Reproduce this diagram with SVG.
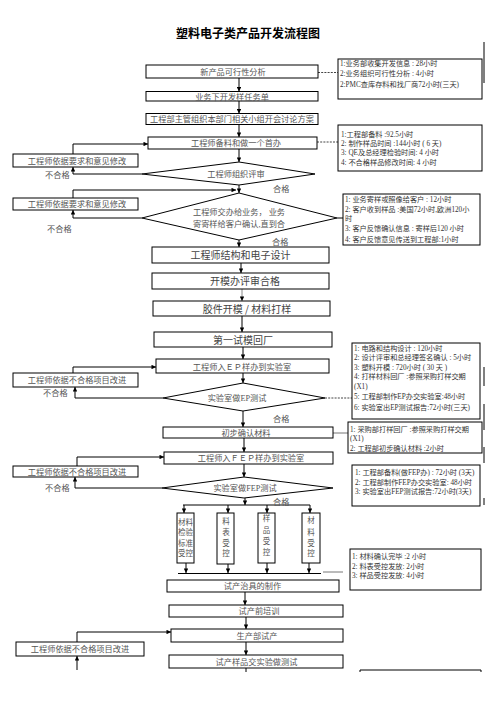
<svg xmlns="http://www.w3.org/2000/svg" width="496" height="702" viewBox="0 0 496 702">
<style>
.b{fill:#fff;stroke:#000;stroke-width:1}
.t{font-family:"Liberation Serif","Noto Sans CJK SC",serif;font-size:8.2px;fill:#555;text-anchor:middle}
.big{font-family:"Noto Sans CJK SC",sans-serif;font-size:10px;fill:#444;text-anchor:middle}
.i{font-family:"Liberation Serif","Noto Sans CJK SC",serif;font-size:7.2px;fill:#333}
.v{font-family:"Liberation Serif","Noto Sans CJK SC",serif;font-size:7.5px;fill:#555;text-anchor:middle}
.c{fill:none;stroke:#000;stroke-width:1}
.a{fill:none;stroke:#000;stroke-width:1;marker-end:url(#ah)}
.d{fill:none;stroke:#444;stroke-width:1;stroke-dasharray:2 1.2}
.g{fill:none;stroke:#777;stroke-width:1}
.l{font-family:"Liberation Serif","Noto Sans CJK SC",serif;font-size:8.2px;fill:#555}
</style>
<defs>
<marker id="ah" viewBox="0 0 10 10" refX="10" refY="5" markerWidth="5" markerHeight="4.5" markerUnits="userSpaceOnUse" orient="auto">
<path d="M0,0 L10,5 L0,10 z" fill="#000"/>
</marker>
</defs>
<rect width="496" height="702" fill="#fff"/>
<text x="248" y="38" font-family="Noto Sans CJK SC, sans-serif" font-size="12" font-weight="bold" text-anchor="middle" fill="#000">塑料电子类产品开发流程图</text>

<g id="edges">
<line x1="484" y1="42" x2="484" y2="83" class="c"/>
<line x1="484" y1="367" x2="484" y2="386" class="c"/>
<line x1="484" y1="404" x2="484" y2="430" class="c"/>
<line x1="484" y1="447" x2="484" y2="463" class="c"/>
<line x1="484" y1="498" x2="484" y2="505" class="c"/>
</g>

<g id="connectors">
<path d="M239,78 V91.5" class="a"/>
<path d="M239,101 V113.5" class="a"/>
<path d="M239,125 V137" class="a"/>
<path d="M239,149 V162" class="a"/>
<path d="M73,154 V144 H148" class="a"/>
<path d="M142,174 H73 V167" class="a"/>
<path d="M239,185 V193" class="a"/>
<path d="M73,198 V190 H236" class="a"/>
<path d="M142,218 H73 V210" class="a"/>
<path d="M239,240 V247" class="a"/>
<path d="M241,263 V273" class="a"/>
<path d="M242,289 V301" class="a" style="stroke:#888"/>
<path d="M242,316 V332" class="a"/>
<path d="M243,347 V359" class="a"/>
<path d="M73,373 V367 H156" class="a"/>
<path d="M243,373 V383" class="a"/>
<path d="M163,398 H75 V387" class="a"/>
<path d="M243,411 V427" class="a"/>
<path d="M244,438 V452" class="a"/>
<path d="M77,466 V457 H164" class="a"/>
<path d="M244,464 V477" class="a"/>
<path d="M162,488 H75 V477" class="a"/>
<path d="M245,498 V505" class="a"/>
<path d="M183,505 H310" class="c"/>
<path d="M184,505 V513" class="a"/>
<path d="M228,505 V513" class="a"/>
<path d="M267,505 V513" class="a"/>
<path d="M310,505 V513" class="a"/>
<path d="M186,563 V573" class="a"/>
<path d="M228,564 V573" class="a"/>
<path d="M267,563 V573" class="a"/>
<path d="M309,563 V573" class="a"/>
<path d="M178,573.5 H321" class="c"/>
<path d="M245,592 V605" class="a"/>
<path d="M246,617 V629" class="a"/>
<path d="M77,642 V632 H171" class="a"/>
<path d="M77,670 V656" class="a"/>
<path d="M246,642 V655" class="a"/>
<path d="M246,668 V672" class="c"/>
<path d="M318,72.5 H338" class="d"/>
<path d="M317,142 H338" class="d"/>
<path d="M337,218 H343" class="c"/>
<path d="M325,398 H352" class="d"/>
<path d="M333,433 H348" class="g"/>
<path d="M323,572 H343" class="g"/>
<path d="M360,672 V670 H481 V672" class="c"/>
</g>

<g id="n1"><rect x="146" y="65" width="172" height="13" class="b"/><text x="233" y="75" class="t">新产品可行性分析</text></g>
<g id="n2"><rect x="146" y="91.5" width="172" height="9.5" class="b"/><text x="232" y="99.5" class="t">业务下开发样任务单</text></g>
<g id="n3"><rect x="146" y="113.5" width="172" height="11" class="b"/><text x="232" y="122" class="t">工程部主管组织本部门相关小组开会讨论方案</text></g>
<g id="n4"><rect x="148" y="137" width="169" height="12" class="b"/><text x="236" y="146" class="t">工程师备料和做一个首办</text></g>
<g id="d1"><path d="M239,162 L315,174 L239,185 L142,174 Z" class="b"/><text x="236" y="177" class="t">工程师组织评审</text></g>
<g id="L1"><rect x="13" y="154" width="125" height="13" class="b"/><text x="77" y="163.5" class="t">工程师依据要求和意见修改</text></g>
<g id="d2"><path d="M239,193 L337,218 L239,240 L142,218 Z" class="b"/><text x="239" y="215" class="t">工程师交办给业务， 业务</text><text x="239" y="227" class="t">寄寄样给客户确认,直到合</text></g>
<g id="L2"><rect x="13" y="198" width="125" height="12" class="b"/><text x="77" y="207" class="t">工程师依据要求和意见修改</text></g>
<g id="n5"><rect x="152" y="247" width="177" height="16" class="b"/><text x="240.5" y="259" class="big">工程师结构和电子设计</text></g>
<g id="n6"><rect x="152" y="273" width="177" height="16" class="b"/><text x="245" y="285" class="big">开模办评审合格</text></g>
<g id="n7"><rect x="153" y="301" width="177" height="15" class="b"/><text x="247" y="312.5" class="big">胶件开模 / 材料打样</text></g>
<g id="n8"><rect x="154" y="332" width="178" height="15" class="b"/><text x="243" y="343.5" class="big">第一试模回厂</text></g>
<g id="n9"><rect x="156" y="359" width="173" height="14" class="b"/><text x="242" y="369.5" class="t">工程师入ＥＰ样办到实验室</text></g>
<g id="L3"><rect x="13" y="373" width="125" height="14" class="b"/><text x="77" y="383" class="t">工程师依据不合格项目改进</text></g>
<g id="d3"><path d="M243,383 L325,398 L243,411 L163,398 Z" class="b"/><text x="237" y="401" class="t">实验室做EP测试</text></g>
<g id="n10"><rect x="163" y="427" width="170" height="11" class="b"/><text x="246" y="436" class="t">初步确认材料</text></g>
<g id="n11"><rect x="164" y="452" width="169" height="12" class="b"/><text x="251" y="461" class="t">工程师入ＦＥＰ样办到实验室</text></g>
<g id="L4"><rect x="13" y="466" width="125" height="11" class="b"/><text x="77" y="475" class="t">工程师依据不合格项目改进</text></g>
<g id="d4"><path d="M244,477 L333,488 L244,498 L162,488 Z" class="b"/><text x="245" y="491" class="t">实验室做FEP测试</text></g>
<g id="v1"><rect x="177" y="513" width="17" height="50" class="b"/><text x="185.5" y="525" class="v">材料</text><text x="185.5" y="535" class="v">检验</text><text x="185.5" y="545.5" class="v">标准</text><text x="185.5" y="556" class="v">受控</text></g>
<g id="v2"><rect x="217" y="513" width="17" height="51" class="b"/><text x="226" y="524" class="v">料</text><text x="226" y="535" class="v">表</text><text x="226" y="545.5" class="v">受</text><text x="226" y="555.5" class="v">控</text></g>
<g id="v3"><rect x="258" y="513" width="17" height="50" class="b"/><text x="266.5" y="520.5" class="v">样</text><text x="266.5" y="533" class="v">品</text><text x="266.5" y="544" class="v">受</text><text x="266.5" y="554.5" class="v">控</text></g>
<g id="v4"><rect x="302" y="513" width="18" height="50" class="b"/><text x="311" y="523" class="v">材</text><text x="311" y="535" class="v">料</text><text x="311" y="545.5" class="v">受</text><text x="311" y="555.5" class="v">控</text></g>
<g id="n12"><rect x="167" y="580" width="172" height="12" class="b"/><text x="252.5" y="589" class="t">试产治具的制作</text></g>
<g id="n13"><rect x="169" y="605" width="174" height="12" class="b"/><text x="259" y="614" class="t">试产前培训</text></g>
<g id="n14"><rect x="171" y="629" width="172" height="13" class="b"/><text x="257" y="638.5" class="t">生产部试产</text></g>
<g id="L5"><rect x="16" y="642" width="128" height="14" class="b"/><text x="80" y="652" class="t">工程师依据不合格项目改进</text></g>
<g id="n15"><rect x="169" y="655" width="174" height="13" class="b"/><text x="256.5" y="665" class="t">试产样品交实验做测试</text></g>

<g id="labels">
<text x="45" y="178" class="l">不合格</text>
<text x="273" y="192" class="l">合格</text>
<text x="47" y="232" class="l">不合格</text>
<text x="272" y="245" class="l">合格</text>
<text x="43" y="396" class="l">不合格</text>
<text x="273" y="422" class="l">合格</text>
<text x="45" y="491" class="l">不合格</text>
<text x="273" y="505" class="l">合格</text>
</g>

<g id="I1"><rect x="338" y="59" width="144" height="40" class="b"/>
<text x="340" y="66" class="i">1:业务部收集开发信息 : 28小时</text>
<text x="340" y="75.5" class="i">2:业务组织可行性分析 : 4小时</text>
<text x="340" y="87" class="i">2:PMC查库存料和找厂商72小时(三天)</text></g>
<g id="I2"><rect x="338" y="125" width="144" height="46" class="b"/>
<text x="341" y="137" class="i">1:工程部备料 :92.5小时</text>
<text x="341" y="146" class="i">2: 制作样品时间 :144小时 ( 6 天)</text>
<text x="341" y="155" class="i">3: QE及总经理检验时间: 4 小时</text>
<text x="341" y="164.5" class="i">4: 不合格样品修改时间: 4 小时</text></g>
<g id="I3"><rect x="343" y="194" width="137" height="51" class="b"/>
<text x="345" y="202" class="i">1: 业务寄样或照像给客户 : 12小时</text>
<text x="345" y="212" class="i">2: 客户收到样品 :美国72小时,欧洲120小</text>
<text x="345" y="221" class="i">时</text>
<text x="345" y="231" class="i">3: 客户反馈确认信息 : 寄样后120 小时</text>
<text x="345" y="241.5" class="i">4: 客户反馈意见传送到工程部:1小时</text></g>
<g id="I4"><rect x="352" y="343" width="128" height="76" class="b"/>
<text x="354" y="351" class="i">1: 电路和结构设计 : 120小时</text>
<text x="354" y="360" class="i">2: 设计评审和总经理签名确认 : 5小时</text>
<text x="354" y="369.5" class="i">3: 塑料开模 : 720小时 ( 30 天 )</text>
<text x="354" y="379" class="i">4: 打样材料回厂 :参照采购打样交期</text>
<text x="354" y="389" class="i">(X1)</text>
<text x="354" y="399" class="i">5: 工程部制作EP办交实验室:48小时</text>
<text x="354" y="409.5" class="i">6: 实验室出EP测试报告:72小时(三天)</text></g>
<g id="I5"><rect x="348" y="422" width="134" height="31" class="b"/>
<text x="350" y="432" class="i">1: 采购部打样回厂 :参照采购打样交期</text>
<text x="350" y="441" class="i">(X1)</text>
<text x="350" y="450.5" class="i">2: 工程部初步确认材料 :2小时</text></g>
<g id="I6"><rect x="352" y="465" width="128" height="41" class="b"/>
<text x="355" y="475" class="i">1: 工程部备料(做FEP办) : 72小时 (3天)</text>
<text x="355" y="485" class="i">2: 工程部制作FEP办交实验室: 48小时</text>
<text x="355" y="494" class="i">3: 实验室出FEP测试报告:72小时(3天)</text></g>
<g id="I7"><rect x="350" y="549" width="131" height="41" class="b"/>
<text x="352" y="559" class="i">1: 材料确认完毕 :2 小时</text>
<text x="352" y="568.5" class="i">2: 料表受控发放: 2小时</text>
<text x="352" y="578" class="i">3: 样品受控发放: 4小时</text></g>
</svg>
